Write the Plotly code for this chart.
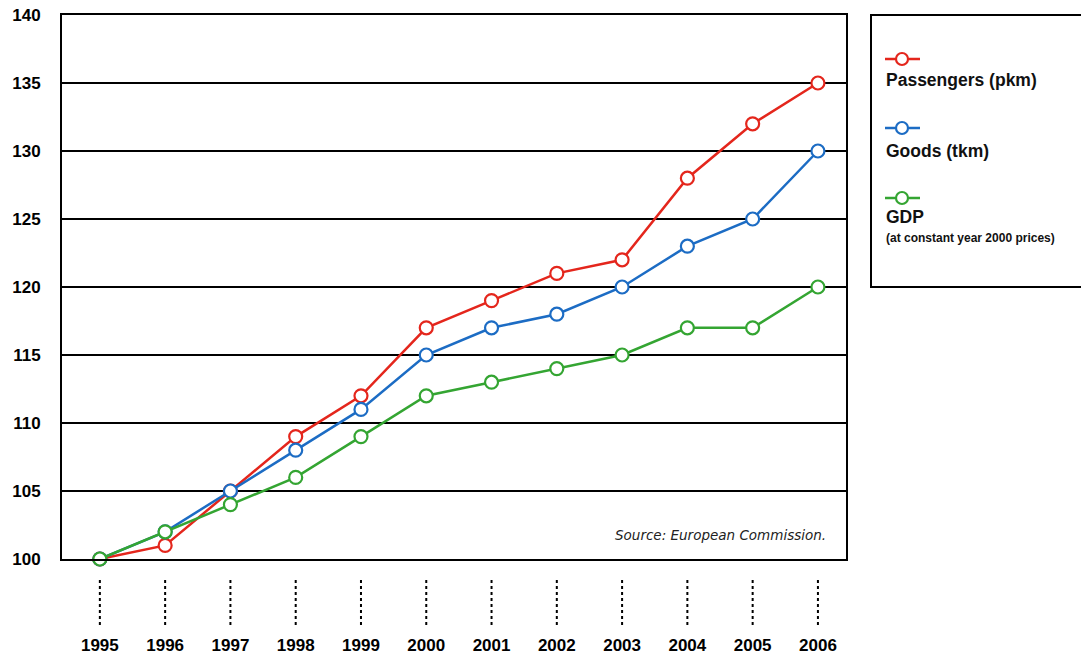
import plotly.graph_objects as go

# Index values (1995 = 100)
years = [1995, 1996, 1997, 1998, 1999, 2000, 2001, 2002, 2003, 2004, 2005, 2006]
passengers = [100, 101, 105, 109, 112, 117, 119, 121, 122, 128, 132, 135]
goods = [100, 102, 105, 108, 111, 115, 117, 118, 120, 123, 125, 130]
gdp = [100, 102, 104, 106, 109, 112, 113, 114, 115, 117, 117, 120]

y_ticks = [100, 105, 110, 115, 120, 125, 130, 135, 140]

RED = "#e4261c"
BLUE = "#1c6cc4"
GREEN = "#34a532"

series = [
    ("Passengers (pkm)", passengers, RED),
    ("Goods (tkm)", goods, BLUE),
    ("GDP", gdp, GREEN),
]

W, H = 1081, 657
L, R, T, B = 62, 0, 15, 98
plot_w = W - L - R
plot_h = H - T - B
main_right = (846 - L) / plot_w
leg_left = (871 - L) / plot_w

fig = go.Figure()

for name, vals, col in series:
    fig.add_trace(go.Scatter(
        x=years, y=vals, mode="lines+markers", name=name,
        line=dict(color=col, width=2.5),
        marker=dict(symbol="circle", size=13, color="white",
                    line=dict(color=col, width=2.2)),
        cliponaxis=False, showlegend=False,
    ))

# Legend panel drawn on a helper subplot in pixel-like units
leg_rows = [
    (RED, 559 - 59, "Passengers (pkm)", 559 - 80),
    (BLUE, 559 - 128, "Goods (tkm)", 559 - 151),
    (GREEN, 559 - 198, "GDP", 559 - 217),
]
for col, ly, label, ty in leg_rows:
    fig.add_trace(go.Scatter(
        x=[885 - 871, 902 - 871, 920 - 871], y=[ly, ly, ly],
        mode="lines", line=dict(color=col, width=2.5),
        xaxis="x2", yaxis="y2", showlegend=False, hoverinfo="skip",
    ))
    fig.add_trace(go.Scatter(
        x=[902 - 871], y=[ly], mode="markers",
        marker=dict(symbol="circle", size=12, color="white",
                    line=dict(color=col, width=2.2)),
        xaxis="x2", yaxis="y2", showlegend=False, hoverinfo="skip",
    ))
    fig.add_annotation(
        x=884 - 871, y=ty, xref="x2", yref="y2", text=f"<b>{label}</b>",
        showarrow=False, xanchor="left", yanchor="middle",
        font=dict(family="Liberation Sans", size=17.5, color="#111"),
    )
fig.add_annotation(
    x=884 - 871, y=559 - 238, xref="x2", yref="y2",
    text="<b>(at constant year 2000 prices)</b>",
    showarrow=False, xanchor="left", yanchor="middle",
    font=dict(family="Liberation Sans", size=12, color="#111"),
)

# Legend frame
fig.add_shape(type="rect", xref="paper", yref="paper",
              x0=leg_left, x1=1.02, y0=(559 - 287) / plot_h, y1=1.0,
              line=dict(color="black", width=2), fillcolor="rgba(0,0,0,0)",
              layer="below")

# Dotted leaders under each year
for yr in years:
    fig.add_shape(type="line", xref="x", yref="paper",
                  x0=yr, x1=yr, y0=-(580 - 559) / plot_h, y1=-(627 - 559) / plot_h,
                  line=dict(color="black", width=2, dash="dot"))

fig.add_annotation(
    x=2006.15, y=101.75, xref="x", yref="y",
    text="<i>Source: European Commission.</i>", showarrow=False,
    xanchor="right", yanchor="middle",
    font=dict(family="DejaVu Sans", size=13.5, color="#222"),
)

fig.update_layout(
    width=W, height=H,
    margin=dict(l=L, r=R, t=T, b=B, autoexpand=False),
    paper_bgcolor="white", plot_bgcolor="white",
    showlegend=False,
    xaxis=dict(
        domain=[0, main_right], range=[1994.42, 2006.43],
        tickvals=years, ticktext=[str(y) for y in years],
        showgrid=False, zeroline=False, automargin=False,
        showline=True, linecolor="black", linewidth=2, mirror=True,
        ticks="", ticklabelstandoff=70,
        tickfont=dict(family="Liberation Sans", size=17, color="black",
                      weight="bold"),
    ),
    yaxis=dict(
        range=[100, 140], tickvals=y_ticks, automargin=False,
        showgrid=True, gridcolor="black", gridwidth=2, zeroline=False,
        showline=True, linecolor="black", linewidth=2, mirror=True,
        ticks="", ticklabelstandoff=16,
        tickfont=dict(family="Liberation Sans", size=17, color="black",
                      weight="bold"),
    ),
    xaxis2=dict(domain=[leg_left, 1.0], range=[0, W - 871], visible=False,
                fixedrange=True, anchor="y2"),
    yaxis2=dict(domain=[0, 1], range=[0, plot_h], visible=False,
                anchor="x2", fixedrange=True),
)

fig.write_html("out.html")
